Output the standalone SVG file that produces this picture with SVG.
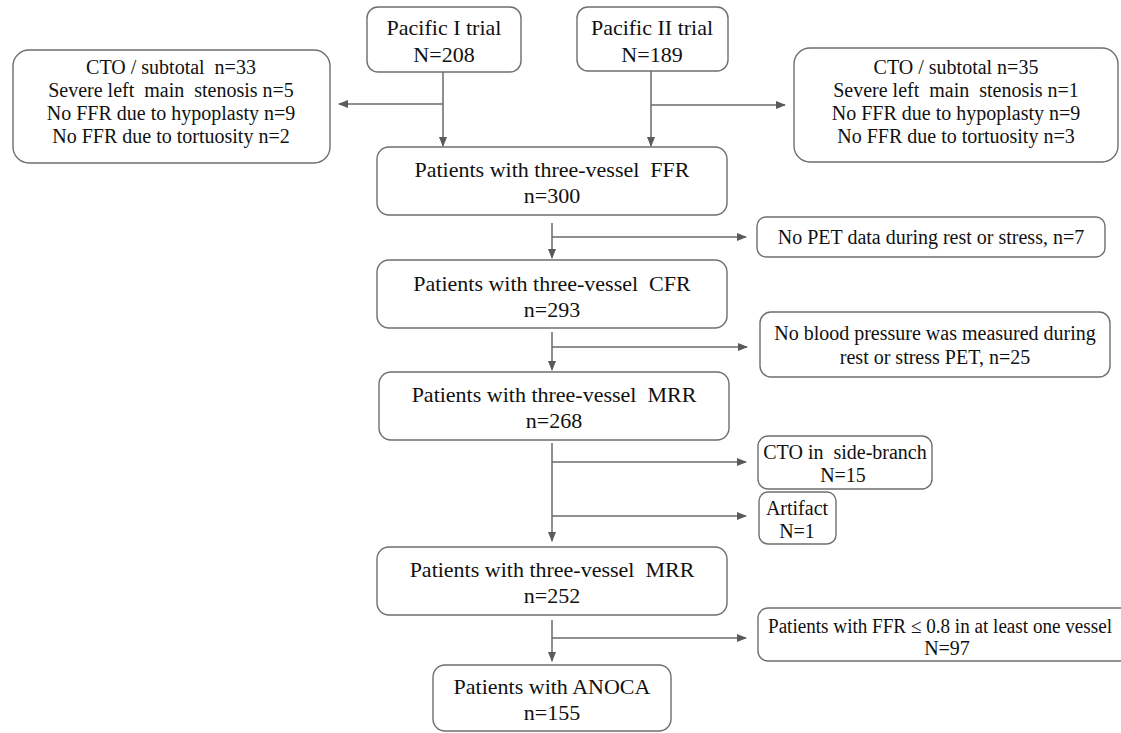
<svg xmlns="http://www.w3.org/2000/svg" width="1121" height="733" viewBox="0 0 1121 733">
<style>
.box{fill:#fff;stroke:#6e6e6e;stroke-width:1.4}
text{font-family:'Liberation Serif','Times New Roman',Times,'DejaVu Serif',serif;fill:#111;text-anchor:middle;white-space:pre}
.m{font-size:22px}
.s{font-size:20px}
.c{stroke:#6a6a6a;stroke-width:1.5;fill:none}
</style>
<defs>
<marker id="ah" markerWidth="10" markerHeight="8" refX="9" refY="4" orient="auto" markerUnits="userSpaceOnUse">
<path d="M0,0 L10,4 L0,8 Z" fill="#5a5a5a"/>
</marker>
</defs>
<rect width="1121" height="733" fill="#fff"/>
<g id="connectors">
<path class="c" d="M443,72 V146" marker-end="url(#ah)"/>
<path class="c" d="M443,104 H339" marker-end="url(#ah)"/>
<path class="c" d="M651,71 V146" marker-end="url(#ah)"/>
<path class="c" d="M651,105 H785" marker-end="url(#ah)"/>
<path class="c" d="M552,223 V258" marker-end="url(#ah)"/>
<path class="c" d="M552,237 H746" marker-end="url(#ah)"/>
<path class="c" d="M552,332 V370" marker-end="url(#ah)"/>
<path class="c" d="M552,347 H747" marker-end="url(#ah)"/>
<path class="c" d="M552,443 V541" marker-end="url(#ah)"/>
<path class="c" d="M552,462 H746" marker-end="url(#ah)"/>
<path class="c" d="M552,516 H746" marker-end="url(#ah)"/>
<path class="c" d="M552,620 V661" marker-end="url(#ah)"/>
<path class="c" d="M552,638 H746" marker-end="url(#ah)"/>
</g>
<g id="pacific1">
<rect class="box" x="367" y="7" width="154" height="65" rx="11"/>
<text class="m" x="444" y="35">Pacific I trial</text>
<text class="m" x="444" y="62">N=208</text>
</g>
<g id="pacific2">
<rect class="box" x="577" y="7" width="151" height="64" rx="11"/>
<text class="m" x="652" y="35">Pacific II trial</text>
<text class="m" x="652" y="62">N=189</text>
</g>
<g id="excl-left">
<rect class="box" x="13" y="50" width="317" height="113" rx="16"/>
<text class="s" x="171" y="74">CTO / subtotal  n=33</text>
<text class="s" x="171" y="97">Severe left  main  stenosis n=5</text>
<text class="s" x="171" y="120">No FFR due to hypoplasty n=9</text>
<text class="s" x="171" y="143">No FFR due to tortuosity n=2</text>
</g>
<g id="excl-right">
<rect class="box" x="794" y="48" width="324" height="114" rx="16"/>
<text class="s" x="956" y="74">CTO / subtotal n=35</text>
<text class="s" x="956" y="97">Severe left  main  stenosis n=1</text>
<text class="s" x="956" y="120">No FFR due to hypoplasty n=9</text>
<text class="s" x="956" y="143">No FFR due to tortuosity n=3</text>
</g>
<g id="ffr">
<rect class="box" x="377" y="147" width="350" height="68" rx="12"/>
<text class="m" x="552" y="177">Patients with three-vessel  FFR</text>
<text class="m" x="552" y="203">n=300</text>
</g>
<g id="pet">
<rect class="box" x="757" y="217" width="348" height="40" rx="9"/>
<text class="s" x="931" y="244">No PET data during rest or stress, n=7</text>
</g>
<g id="cfr">
<rect class="box" x="377" y="260" width="350" height="68" rx="12"/>
<text class="m" x="552" y="291">Patients with three-vessel  CFR</text>
<text class="m" x="552" y="317">n=293</text>
</g>
<g id="bp">
<rect class="box" x="760" y="312" width="350" height="65" rx="11"/>
<text class="s" x="935" y="340">No blood pressure was measured during</text>
<text class="s" x="935" y="364">rest or stress PET, n=25</text>
</g>
<g id="mrr1">
<rect class="box" x="379" y="372" width="350" height="68" rx="12"/>
<text class="m" x="554" y="402">Patients with three-vessel  MRR</text>
<text class="m" x="554" y="428">n=268</text>
</g>
<g id="cto-side">
<rect class="box" x="758" y="436" width="174" height="53" rx="10"/>
<text class="s" x="845" y="459">CTO in  side-branch</text>
<text class="s" x="843" y="482">N=15</text>
</g>
<g id="artifact">
<rect class="box" x="759" y="492" width="77" height="52" rx="9"/>
<text class="s" x="797" y="515">Artifact</text>
<text class="s" x="797" y="538">N=1</text>
</g>
<g id="mrr2">
<rect class="box" x="377" y="547" width="350" height="68" rx="12"/>
<text class="m" x="552" y="577">Patients with three-vessel  MRR</text>
<text class="m" x="552" y="603">n=252</text>
</g>
<g id="ffr08">
<rect class="box" x="758" y="608" width="380" height="53" rx="10"/>
<text class="s" x="940" y="633" textLength="344" lengthAdjust="spacingAndGlyphs">Patients with FFR ≤ 0.8 in at least one vessel</text>
<text class="s" x="947" y="655">N=97</text>
</g>
<g id="anoca">
<rect class="box" x="433" y="665" width="238" height="66" rx="12"/>
<text class="m" x="552" y="694">Patients with ANOCA</text>
<text class="m" x="552" y="720">n=155</text>
</g>
</svg>
